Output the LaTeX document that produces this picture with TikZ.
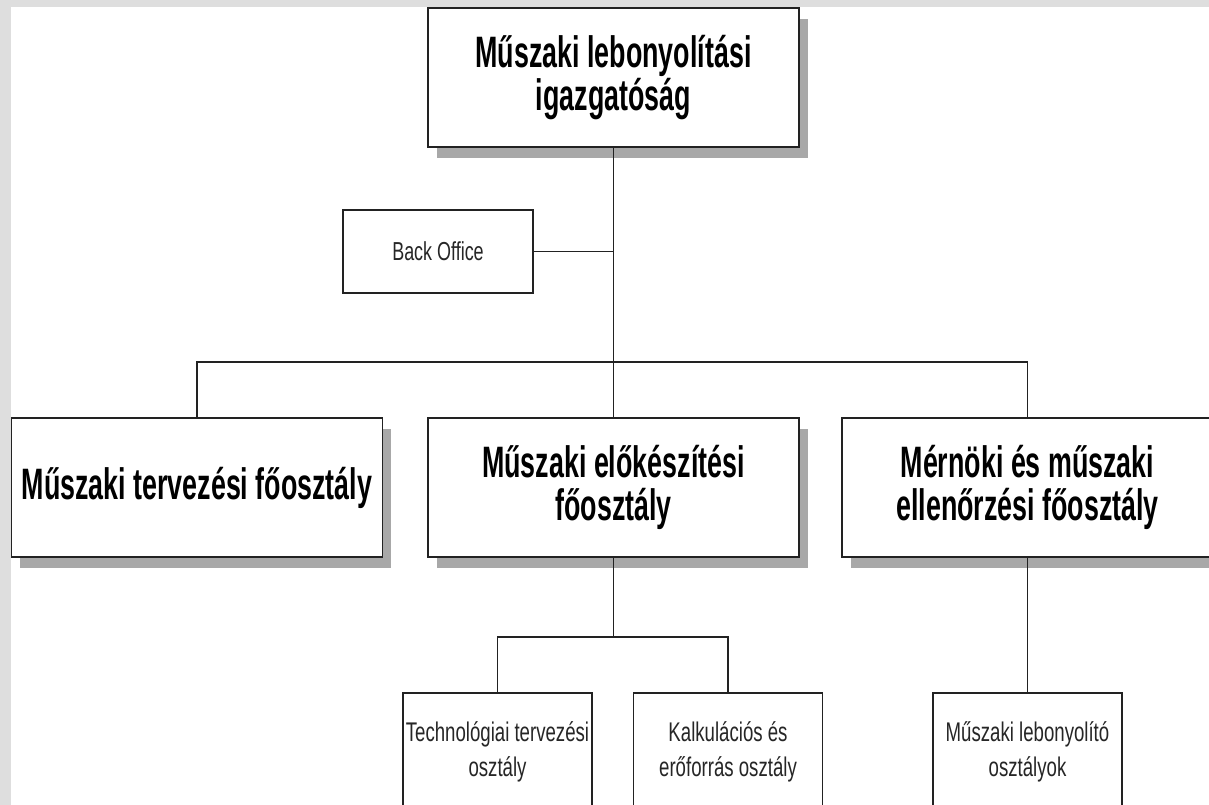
\documentclass[tikz,border=0pt]{standalone}
\usepackage{fontspec}
\setmainfont{Liberation Sans}
\newfontfamily\bigfont[FakeStretch=0.61]{Liberation Sans}
\newfontfamily\smallfont[FakeStretch=0.69]{Liberation Sans}
\usetikzlibrary{shadows}
\definecolor{bggray}{HTML}{DEDEDE}
\definecolor{shadowgray}{HTML}{A8A8A8}
\definecolor{linecol}{HTML}{222222}
\tikzset{
  bigbox/.style={draw=linecol, line width=1.4pt, fill=white, minimum width=371pt, minimum height=139pt,
    align=center, inner sep=0pt, font=\bigfont\bfseries\fontsize{44}{43}\selectfont,
    drop shadow={shadow xshift=8.5pt, shadow yshift=-11pt, fill=shadowgray, opacity=1}},
  smallbox/.style={draw=linecol, line width=1.3pt, fill=white, minimum width=189pt, minimum height=118pt,
    align=center, inner sep=0pt, text=black!85, font=\smallfont\fontsize{27}{35}\selectfont},
  backbox/.style={draw=linecol, line width=1.3pt, fill=white, minimum width=190pt, minimum height=83pt,
    align=center, inner sep=0pt, text=black!85, font=\smallfont\fontsize{26}{30}\selectfont},
  conn/.style={draw=linecol, line width=1.3pt}
}
\begin{document}
\begin{tikzpicture}[x=1pt,y=-1pt]
\useasboundingbox (0,0) rectangle (1209,805);
\clip (0,0) rectangle (1209,805);
\fill[bggray] (0,0) rectangle (1209,805);
\fill[white] (11,7) rectangle (1209,805);

\node[bigbox] (T) at (613.5,77.5) {Műszaki lebonyolítási\\igazgatóság};
\node[backbox] (BO) at (438,251.5) {Back Office};
\node[bigbox] (L) at (197,487.5) {Műszaki tervezési főosztály};
\node[bigbox] (M) at (613.5,487.5) {Műszaki előkészítési\\főosztály};
\node[bigbox] (R) at (1027.5,487.5) {Mérnöki és műszaki\\ellenőrzési főosztály};
\node[smallbox] (S1) at (497.5,752) {Technológiai tervezési\\osztály};
\node[smallbox] (S2) at (728,752) {Kalkulációs és\\erőforrás osztály};
\node[smallbox] (S3) at (1027.5,752) {Műszaki lebonyolító\\osztályok};

\coordinate (bus) at (613.5,362);
\coordinate (bus2) at (613.5,637);

\draw[conn] (T.south) -- (bus);
\draw[conn] (BO.east) -- (BO.east -| T.south);
\draw[conn] (L.north) -- (L.north |- bus) -- (R.north |- bus) -- (R.north);
\draw[conn] (bus) -- (M.north);
\draw[conn] (M.south) -- (bus2);
\draw[conn] (S1.north) -- (S1.north |- bus2) -- (S2.north |- bus2) -- (S2.north);
\draw[conn] (R.south) -- (S3.north);
\end{tikzpicture}
\end{document}
